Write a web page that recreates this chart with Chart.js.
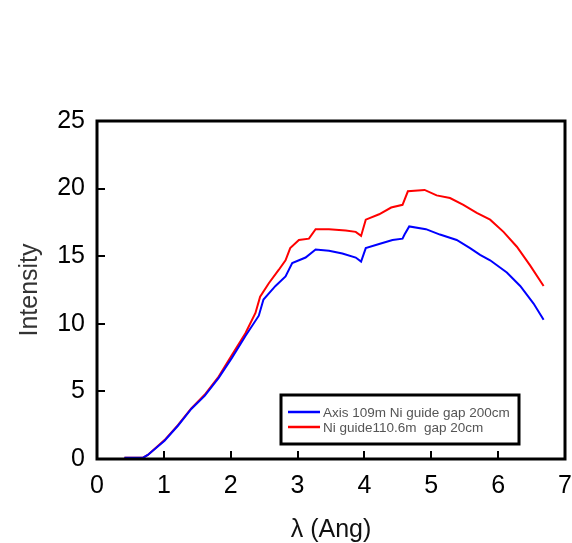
<!DOCTYPE html>
<html>
<head>
<meta charset="utf-8">
<script src="https://cdn.jsdelivr.net/npm/chart.js@4"></script>
<style>
  html, body { margin: 0; padding: 0; background: #fff; }
  #wrap { width: 572px; height: 543px; }
</style>
</head>
<body>
<div id="wrap"><canvas id="chart" width="572" height="543"></canvas></div>
<script>
// --- dados ---
const seriesLabels = ['Axis 109m Ni guide gap 200cm', 'Ni guide110.6m  gap 20cm'];

const blueX = [0.41, 0.69, 0.76, 1.01, 1.21, 1.41, 1.61, 1.82, 2.02, 2.22, 2.42, 2.49, 2.67, 2.82, 2.92, 3.12, 3.27, 3.47, 3.67, 3.87, 3.95, 4.02, 4.22, 4.42, 4.57, 4.60, 4.67, 4.92, 5.13, 5.38, 5.58, 5.73, 5.88, 6.13, 6.33, 6.53, 6.68];
const blueY = [0.1, 0.1, 0.3, 1.35, 2.46, 3.7, 4.67, 6.0, 7.5, 9.1, 10.6, 11.8, 12.8, 13.5, 14.5, 14.9, 15.5, 15.4, 15.2, 14.9, 14.6, 15.6, 15.9, 16.2, 16.3, 16.6, 17.2, 17.0, 16.6, 16.2, 15.6, 15.1, 14.7, 13.8, 12.8, 11.5, 10.3];

const redX = [0.41, 0.69, 0.76, 1.01, 1.21, 1.41, 1.61, 1.82, 2.02, 2.22, 2.37, 2.44, 2.57, 2.72, 2.82, 2.89, 3.02, 3.17, 3.27, 3.47, 3.72, 3.87, 3.95, 4.02, 4.22, 4.40, 4.57, 4.65, 4.90, 5.08, 5.28, 5.48, 5.68, 5.88, 6.08, 6.28, 6.48, 6.68];
const redY = [0.1, 0.1, 0.3, 1.4, 2.5, 3.75, 4.75, 6.1, 7.7, 9.3, 10.8, 12.0, 13.0, 14.0, 14.7, 15.6, 16.2, 16.3, 17.0, 17.0, 16.9, 16.8, 16.5, 17.7, 18.1, 18.6, 18.8, 19.8, 19.9, 19.5, 19.3, 18.8, 18.2, 17.7, 16.8, 15.7, 14.3, 12.8];

const xTicks = [0, 1, 2, 3, 4, 5, 6, 7];
const yTicks = [0, 5, 10, 15, 20, 25];

const toPoints = (xs, ys) => xs.map((x, i) => ({ x: x, y: ys[i] }));
const fontFamily = '"Liberation Sans", Arial, sans-serif';

// moldura, marcas internas e legenda dentro do gráfico
const framePlugin = {
    id: 'frame',
    afterDraw(chart) {
        const { ctx, chartArea: a, scales } = chart;
        ctx.save();
        ctx.strokeStyle = '#000';
        ctx.lineWidth = 2;
        ctx.beginPath();
        yTicks.forEach(v => {
            const y = Math.round(scales.y.getPixelForValue(v));
            ctx.moveTo(a.left, y); ctx.lineTo(a.left + 8, y);
        });
        xTicks.forEach(v => {
            const x = Math.round(scales.x.getPixelForValue(v));
            ctx.moveTo(x, a.bottom); ctx.lineTo(x, a.bottom - 8);
        });
        ctx.stroke();
        ctx.lineWidth = 3;
        ctx.strokeRect(a.left, a.top, a.right - a.left, a.bottom - a.top);

        // legenda
        const lx = 281, ly = 395, lw = 238, lh = 49;
        ctx.fillStyle = '#fff';
        ctx.fillRect(lx, ly, lw, lh);
        ctx.lineWidth = 3;
        ctx.strokeRect(lx, ly, lw, lh);
        ctx.font = '13.5px ' + fontFamily;
        ctx.textBaseline = 'middle';
        chart.data.datasets.forEach((ds, i) => {
            const yy = 412 + i * 15;
            ctx.strokeStyle = ds.borderColor;
            ctx.lineWidth = 2.5;
            ctx.beginPath();
            ctx.moveTo(288, yy); ctx.lineTo(320, yy);
            ctx.stroke();
            ctx.fillStyle = '#555';
            ctx.fillText(ds.label, 323, yy + 1);
        });
        ctx.restore();
    }
};

new Chart(document.getElementById('chart'), {
    type: 'scatter',
    data: {
        datasets: [
            { label: seriesLabels[0], data: toPoints(blueX, blueY), borderColor: '#0000ff', showLine: true, borderWidth: 2, pointRadius: 0, tension: 0 },
            { label: seriesLabels[1], data: toPoints(redX, redY), borderColor: '#ff0000', showLine: true, borderWidth: 2, pointRadius: 0, tension: 0 }
        ]
    },
    options: {
        responsive: false,
        animation: false,
        layout: { padding: { top: 121, right: 7, left: 0, bottom: 0 } },
        plugins: { legend: { display: false }, tooltip: { enabled: false } },
        scales: {
            x: {
                type: 'linear', min: 0, max: 7,
                grid: { display: false },
                border: { display: false },
                ticks: { stepSize: 1, padding: 4, color: '#000', font: { family: fontFamily, size: 25 } },
                title: { display: true, text: 'λ (Ang)', color: '#111', padding: { top: 0, bottom: 0 }, font: { family: fontFamily, size: 25, lineHeight: 1 } },
                afterFit: (s) => { s.height = 84; s.paddingLeft = 0; s.paddingRight = 0; }
            },
            y: {
                min: 0, max: 25,
                grid: { display: false },
                border: { display: false },
                ticks: { stepSize: 5, padding: 4, color: '#000', font: { family: fontFamily, size: 25 } },
                title: { display: true, text: 'Intensity', color: '#333', padding: { top: 18, bottom: 0 }, font: { family: fontFamily, size: 25, lineHeight: 1 } },
                afterFit: (s) => { s.width = 97; s.paddingTop = 0; s.paddingBottom = 0; }
            }
        }
    },
    plugins: [framePlugin]
});
</script>
</body>
</html>
